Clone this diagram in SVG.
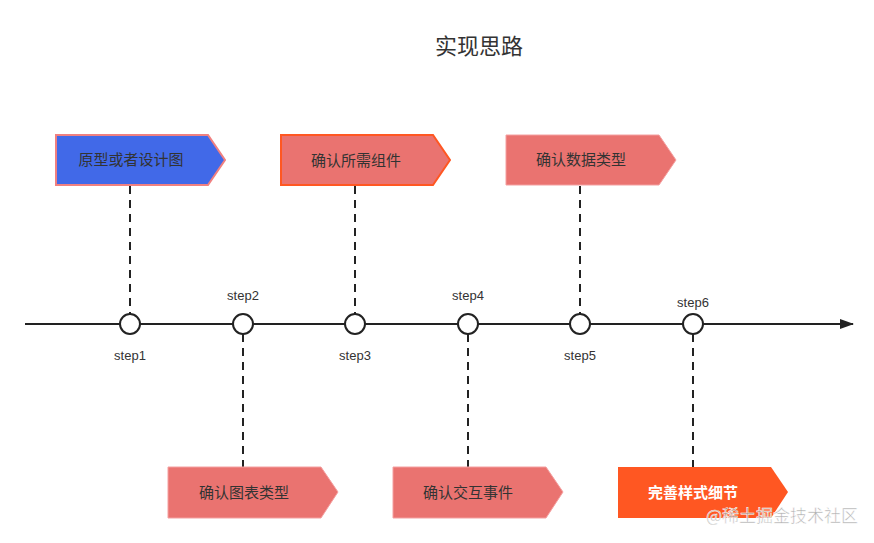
<svg xmlns="http://www.w3.org/2000/svg" width="874" height="543" viewBox="0 0 874 543">
<style>
.t{font-family:"Microsoft YaHei","Noto Sans CJK SC","Liberation Sans",sans-serif;fill:#333;text-anchor:middle}
.box{font-size:15px}
.step{font-size:13px;font-family:"Liberation Sans","Noto Sans CJK SC",sans-serif;fill:#333;text-anchor:middle}
.dash{stroke:#222;stroke-width:2;stroke-dasharray:8 6;fill:none}
.node{fill:#fff;stroke:#222;stroke-width:2}
</style>
<defs>
<marker id="arr" markerWidth="14" markerHeight="10" refX="13" refY="5" orient="auto" markerUnits="userSpaceOnUse">
<path d="M0,0 L14,5 L0,10 Z" fill="#222"/>
</marker>
</defs>
<rect width="874" height="543" fill="#fff"/>
<text class="t" x="479" y="54" font-size="22">实现思路</text>
<g id="connectors">
<line x1="25" y1="324" x2="853" y2="324" stroke="#222" stroke-width="2" marker-end="url(#arr)"/>
<line class="dash" x1="130" y1="186" x2="130" y2="314"/>
<line class="dash" x1="355" y1="186" x2="355" y2="314"/>
<line class="dash" x1="580" y1="186" x2="580" y2="314"/>
<line class="dash" x1="243" y1="334" x2="243" y2="467"/>
<line class="dash" x1="468" y1="334" x2="468" y2="467"/>
<line class="dash" x1="693" y1="334" x2="693" y2="467"/>
</g>
<g id="step1"><circle class="node" cx="130" cy="324" r="10"/><text class="step" x="130" y="360">step1</text></g>
<g id="step2"><circle class="node" cx="243" cy="324" r="10"/><text class="step" x="243" y="300">step2</text></g>
<g id="step3"><circle class="node" cx="355" cy="324" r="10"/><text class="step" x="355" y="360">step3</text></g>
<g id="step4"><circle class="node" cx="468" cy="324" r="10"/><text class="step" x="468" y="300">step4</text></g>
<g id="step5"><circle class="node" cx="580" cy="324" r="10"/><text class="step" x="580" y="360">step5</text></g>
<g id="step6"><circle class="node" cx="693" cy="324" r="10"/><text class="step" x="693" y="307">step6</text></g>
<g id="box1"><path d="M56,135 H208 L225,160 L208,185 H56 Z" fill="#4169E8" stroke="#F08080" stroke-width="2"/><text class="t box" x="131" y="165">原型或者设计图</text></g>
<g id="box2"><path d="M281,135 H433 L450,160 L433,185 H281 Z" fill="#EA7370" stroke="#FF5722" stroke-width="2"/><text class="t box" x="356" y="166" font-size="16">确认所需组件</text></g>
<g id="box3"><path d="M506,135 H659 L676,160 L659,185 H506 Z" fill="#EA7370" stroke="#F4A0A0" stroke-width="1"/><text class="t box" x="581" y="165">确认数据类型</text></g>
<g id="box4"><path d="M168,467 H321 L338,492 L321,518 H168 Z" fill="#EA7370" stroke="#F4A0A0" stroke-width="1"/><text class="t box" x="244" y="498">确认图表类型</text></g>
<g id="box5"><path d="M393,467 H546 L563,492 L546,518 H393 Z" fill="#EA7370" stroke="#F4A0A0" stroke-width="1"/><text class="t box" x="468" y="498">确认交互事件</text></g>
<g id="box6"><path d="M618,467 H771 L788,492 L771,518 H618 Z" fill="#FF5722"/><text class="t box" x="693" y="498" font-size="16" font-weight="bold" style="fill:#fff">完善样式细节</text></g>
<text x="858" y="522" font-family="Noto Sans CJK SC,sans-serif" font-size="17" text-anchor="end" fill="#9a9a9a" fill-opacity="0.8" stroke="#fff" stroke-width="0.5">@稀土掘金技术社区</text>
</svg>
